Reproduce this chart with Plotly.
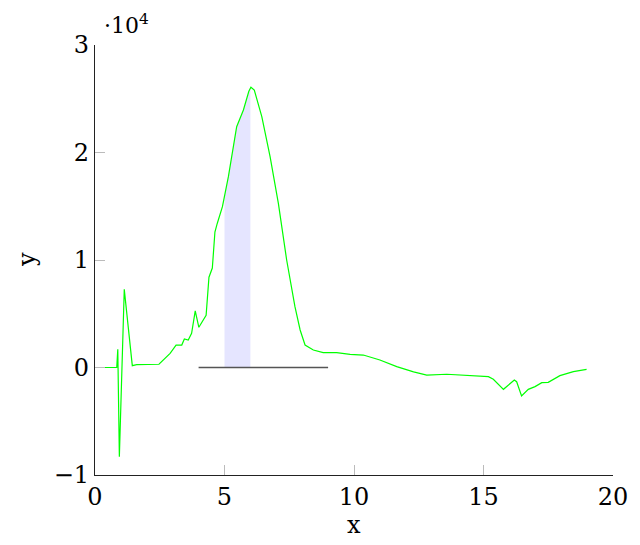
import numpy as np
import plotly.graph_objects as go

# curve (y in raw units, axis shows it as x10^4)
x_vals = [0.0, 0.84, 0.88, 0.94, 1.13, 1.44, 1.61, 2.47, 2.90, 3.13, 3.35, 3.45,
          3.60, 3.73, 3.87, 4.01, 4.29, 4.40, 4.53, 4.63, 4.72, 4.92, 5.15, 5.34,
          5.47, 5.73, 5.94, 6.02, 6.15, 6.44, 6.76, 7.08, 7.40, 7.72, 7.92, 8.11,
          8.43, 8.81, 9.33, 9.85, 10.36, 11.0, 11.65, 12.3, 12.81, 13.58, 14.48,
          15.19, 15.38, 15.77, 16.19, 16.28, 16.47, 16.73, 16.99, 17.25, 17.50,
          17.95, 18.47, 18.98]
y_vals = [0, 10, 1700, -8300, 7270, 170, 260, 300, 1320, 2090, 2090, 2650,
          2560, 3180, 5270, 3740, 4850, 8400, 9250, 12600, 13400, 14960, 17750, 20540,
          22400, 23950, 25700, 26070, 25810, 23330, 19610, 15270, 10000, 5660, 3490, 2090,
          1630, 1380, 1380, 1230, 1160, 700, 80, -400, -700, -630, -790,
          -850, -1100, -2030, -1160, -1320, -2650, -2030, -1780, -1410, -1380,
          -760, -390, -170]

band = [5, 6]           # shaded interval
baseline = [4, 9]       # black segment at y = 0
y_ticks = [-1, 0, 1, 2, 3]
x_ticks = [0, 5, 10, 15, 20]

xs = np.array(x_vals)
ys = np.array(y_vals)
inside = (xs > band[0]) & (xs < band[1])
fill_x = [band[0]] + list(xs[inside]) + [band[1]]
fill_y = [np.interp(band[0], xs, ys)] + list(ys[inside]) + [np.interp(band[1], xs, ys)]

fig = go.Figure()

fig.add_trace(go.Scatter(
    x=fill_x, y=fill_y, mode="lines", fill="tozeroy",
    fillcolor="rgb(229,229,255)", line=dict(width=0), hoverinfo="skip"
))

fig.add_trace(go.Scatter(
    x=baseline, y=[0, 0], mode="lines",
    line=dict(color="#555555", width=1.3)
))

fig.add_trace(go.Scatter(
    x=x_vals, y=y_vals, mode="lines",
    line=dict(color="rgb(0,255,0)", width=1.2)
))

font = dict(family="DejaVu Serif, serif", size=24, color="black")

# page body has an 8px margin, so the figure is a bit smaller than the window
fig.update_layout(
    width=632, height=537,
    margin=dict(l=87, r=27, t=37, b=70),
    plot_bgcolor="white", paper_bgcolor="white",
    showlegend=False,
    font=font,
    xaxis=dict(
        range=[0, 20], tickvals=x_ticks, ticktext=[str(t) for t in x_ticks],
        showgrid=False, zeroline=False, automargin=False,
        showline=True, linecolor="#222222", linewidth=1.2,
        ticks="inside", ticklen=10, tickcolor="#bbbbbb", tickwidth=1,
    ),
    yaxis=dict(
        range=[-10000, 30000], tickvals=[t * 10000 for t in y_ticks],
        ticktext=[("\u2212" + str(-t)) if t < 0 else str(t) for t in y_ticks],
        showgrid=False, zeroline=False, automargin=False,
        showline=True, linecolor="#222222", linewidth=1.2,
        ticks="inside", ticklen=10, tickcolor="#bbbbbb", tickwidth=1,
    ),
)

# axis titles
fig.add_annotation(text="x", xref="paper", yref="paper", x=0.5, y=0,
                   yanchor="middle", yshift=-50, showarrow=False, font=font)
fig.add_annotation(text="y", xref="paper", yref="paper", x=0, y=0.5,
                   xanchor="center", xshift=-68, textangle=-90,
                   showarrow=False, font=font)

fig.add_annotation(
    text="\u00b710<sup>4</sup>", xref="paper", yref="paper",
    x=0.0, y=1.0, xanchor="left", yanchor="bottom", xshift=7, yshift=5,
    showarrow=False, font=dict(family="DejaVu Serif, serif", size=22, color="black")
)

fig.write_html("out.html")
